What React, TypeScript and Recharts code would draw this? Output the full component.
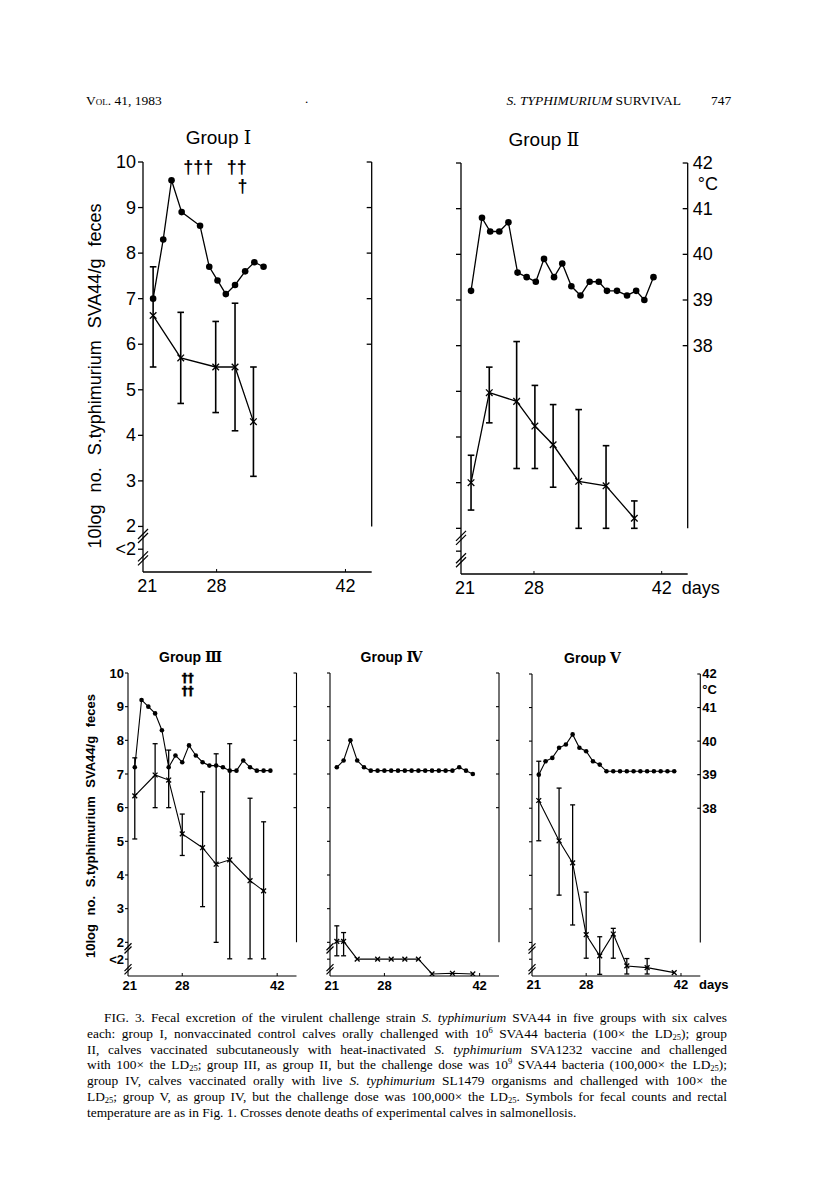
import React from "react";
import {
  ComposedChart,
  Line,
  XAxis,
  YAxis,
  ErrorBar,
  ReferenceLine,
  ReferenceDot,
} from "recharts";

const SANS = "'Liberation Sans', Arial, sans-serif";
const SERIF = "'Liberation Serif', 'Times New Roman', serif";

// x axis: days
const dayDomain: [number, number] = [20, 44.85];
const dayTicks = [21, 28, 42];
// left axis: 10log count / g feces (1.5 stands for "<2")
const countTicks = [1.5, 2, 3, 4, 5, 6, 7, 8, 9, 10];
// right axis: rectal temperature (deg C)
const tempTicks = [38, 39, 40, 41, 42];
// the "//" breaks on the left axis
const breakLevelsTop = [1.79, 1.3];
const breakLevelsBottom = [1.82, 1.2];

// Group I
const g1TempDays = [21.1, 22.2, 23.1, 24.2, 26.2, 27.2, 28.1, 29.0, 30.0, 31.1, 32.1, 33.1];
const g1Temp = [39.0, 40.3, 41.6, 40.9, 40.6, 39.7, 39.4, 39.1, 39.3, 39.6, 39.8, 39.7];
const g1CountDays = [21.1, 24.1, 27.9, 30.0, 32.0];
const g1Count = [6.63, 5.7, 5.5, 5.5, 4.3];
const g1Low = [5.5, 4.7, 4.5, 4.1, 3.1];
const g1High = [7.7, 6.7, 6.5, 6.9, 5.5];
const g1Deaths = [
  { day: 26.0, level: 9.89, mark: "†††" },
  { day: 30.2, level: 9.89, mark: "††" },
  { day: 30.8, level: 9.47, mark: "†" },
];

// Group II
const g2TempDays = [21.1, 22.3, 23.2, 24.2, 25.2, 26.2, 27.2, 28.2, 29.1, 30.2, 31.1, 32.1, 33.1, 34.1, 35.1, 36.0, 37.1, 38.2, 39.2, 40.1, 41.1];
const g2Temp = [39.2, 40.8, 40.5, 40.5, 40.7, 39.6, 39.5, 39.4, 39.9, 39.5, 39.8, 39.3, 39.1, 39.4, 39.4, 39.2, 39.2, 39.1, 39.2, 39.0, 39.5];
const g2CountDays = [21.1, 23.1, 26.1, 28.1, 30.1, 32.9, 35.9, 39.0];
const g2Count = [3.0, 4.97, 4.78, 4.24, 3.83, 3.03, 2.93, 2.22];
const g2Low = [2.4, 4.31, 3.31, 3.31, 2.9, 2.0, 2.0, 2.0];
const g2High = [3.6, 5.53, 6.09, 5.13, 4.71, 4.6, 3.81, 2.6];

// Groups III - V: daily temperatures
const dailyDays = [21, 22, 23, 24, 25, 26, 27, 28, 29, 30, 31, 32, 33, 34, 35, 36, 37, 38, 39, 40, 41];

// Group III
const g3Temp = [39.2, 41.2, 41.0, 40.8, 40.3, 39.2, 39.55, 39.35, 39.85, 39.55, 39.35, 39.25, 39.25, 39.2, 39.1, 39.1, 39.4, 39.2, 39.1, 39.1, 39.1];
const g3CountDays = [21, 24, 26, 28, 31, 33, 35, 38, 40];
const g3Count = [6.35, 6.97, 6.82, 5.22, 4.81, 4.32, 4.45, 3.83, 3.53];
const g3Low = [5.07, 6.0, 6.0, 4.58, 3.06, 2.0, 1.51, 1.51, 1.51];
const g3High = [7.48, 7.9, 7.71, 5.81, 6.47, 7.6, 7.9, 6.28, 5.58];
const g3Deaths = [
  { day: 28.8, level: 9.86, mark: "††" },
  { day: 28.8, level: 9.47, mark: "††" },
];

// Group IV
const g4Temp = [39.2, 39.4, 40.0, 39.4, 39.2, 39.1, 39.1, 39.1, 39.1, 39.1, 39.1, 39.1, 39.1, 39.1, 39.1, 39.1, 39.1, 39.1, 39.2, 39.1, 39.0];
const g4CountDays = [21, 22, 24, 27, 29, 31, 33, 35, 38, 41];
const g4Count = [2.03, 2.03, 1.5, 1.5, 1.5, 1.5, 1.5, 1.06, 1.08, 1.06];
const g4Low = [1.6, 1.6, null, null, null, null, null, null, null, null];
const g4High = [2.49, 2.29, null, null, null, null, null, null, null, null];

// Group V
const g5Temp = [39.0, 39.4, 39.5, 39.8, 39.9, 40.2, 39.8, 39.7, 39.4, 39.3, 39.1, 39.1, 39.1, 39.1, 39.1, 39.1, 39.1, 39.1, 39.1, 39.1, 39.1];
const g5CountDays = [21, 24, 26, 28, 30, 32, 34, 37, 41];
const g5Count = [6.23, 5.03, 4.37, 2.23, 1.6, 2.25, 1.3, 1.25, 1.1];
const g5Low = [5.03, 3.41, 2.52, 1.53, 1.05, 1.53, 1.06, 1.06, null];
const g5High = [7.4, 6.6, 6.1, 3.5, 2.17, 2.42, 1.52, 1.52, null];

type Death = { day: number; level: number; mark: string };

type PanelProps = {
  left: number;
  top: number;
  w: number;
  h: number;
  big: boolean;
  tempDays: number[];
  temps: number[];
  countDays: number[];
  counts: number[];
  lows: (number | null)[];
  highs: (number | null)[];
  countLabels: boolean;
  tempLabels: boolean;
  daysLabel: boolean;
  deaths?: Death[];
};

// space around the plot area: axis band + outer margin
const AXW = 40;
const AXH = 30;
const ML = 20;
const MR = 20;
const MT = 20;
const MB = 4;

function CountTick(props: any) {
  const { x, y, payload, big, labels } = props;
  const v = payload.value;
  const tl = big ? 5 : 3;
  return (
    <g>
      <line x1={x - tl} y1={y} x2={x} y2={y} stroke="#000" strokeWidth={big ? 1.3 : 1.1} />
      {labels && (
        <text
          x={x - (big ? 7 : 4)}
          y={y}
          textAnchor="end"
          dominantBaseline="central"
          fontSize={big ? 18 : 13}
          fontWeight={big ? 400 : 700}
          fontFamily={SANS}
          fill="#000"
        >
          {v === 1.5 ? "<2" : v}
        </text>
      )}
    </g>
  );
}

function TempTick(props: any) {
  const { x, y, payload, big, labels } = props;
  const v = payload.value;
  const tl = big ? 5 : 3;
  const fs = big ? 18 : 13;
  const fw = big ? 400 : 700;
  return (
    <g>
      <line x1={x - tl} y1={y} x2={x} y2={y} stroke="#000" strokeWidth={big ? 1.3 : 1.1} />
      {labels && (
        <text x={x + (big ? 5 : 2)} y={y} textAnchor="start" dominantBaseline="central" fontSize={fs} fontWeight={fw} fontFamily={SANS} fill="#000">
          {v}
        </text>
      )}
      {labels && v === 42 && (
        <text x={x + (big ? 10 : 2)} y={y + (big ? 21 : 16)} textAnchor="start" dominantBaseline="central" fontSize={fs} fontWeight={fw} fontFamily={SANS} fill="#000">
          °C
        </text>
      )}
    </g>
  );
}

function DayTick(props: any) {
  const { x, y, payload, big, days } = props;
  const v = payload.value;
  const fs = big ? 18 : 13;
  const fw = big ? 400 : 700;
  const ty = y + (big ? 14 : 9);
  return (
    <g>
      {v !== 21 && <line x1={x} y1={y} x2={x} y2={y - 3} stroke="#000" strokeWidth={1} />}
      <text x={x + (v === 21 ? -5 : 0)} y={ty} textAnchor="middle" dominantBaseline="central" fontSize={fs} fontWeight={fw} fontFamily={SANS} fill="#000">
        {v}
      </text>
      {days && v === 42 && (
        <text x={x + (big ? 20 : 18)} y={ty} textAnchor="start" dominantBaseline="central" fontSize={fs} fontWeight={fw} fontFamily={SANS} fill="#000">
          days
        </text>
      )}
    </g>
  );
}

function BreakMark(props: any) {
  const { cx, cy, big } = props;
  const a = big ? 5 : 3.5;
  const g = big ? 2 : 1.6;
  return (
    <g stroke="#000" strokeWidth={1.2}>
      <line x1={cx - a} y1={cy + a - g} x2={cx + a} y2={cy - a - g} />
      <line x1={cx - a} y1={cy + a + g} x2={cx + a} y2={cy - a + g} />
    </g>
  );
}

function CrossDot(props: any) {
  const { cx, cy, size } = props;
  if (cx == null || cy == null) return <g />;
  return (
    <g stroke="#000" strokeWidth={1.3}>
      <line x1={cx - size} y1={cy - size} x2={cx + size} y2={cy + size} />
      <line x1={cx - size} y1={cy + size} x2={cx + size} y2={cy - size} />
    </g>
  );
}

function Panel(p: PanelProps) {
  const tempData = p.tempDays.map((d, i) => ({ day: d, temp: p.temps[i] }));
  const countData = p.countDays.map((d, i) => {
    const lo = p.lows[i];
    const hi = p.highs[i];
    return {
      day: d,
      count: p.counts[i],
      err: lo == null || hi == null ? null : [p.counts[i] - lo, hi - p.counts[i]],
    };
  });
  const sw = p.big ? 1.3 : 1.1;
  const breaks = p.big ? breakLevelsTop : breakLevelsBottom;
  const padL = ML + AXW;
  const padT = MT;

  return (
    <div style={{ position: "absolute", left: p.left - padL, top: p.top - padT }}>
      <ComposedChart
        width={padL + p.w + AXW + MR}
        height={padT + p.h + AXH + MB}
        margin={{ top: MT, right: MR, bottom: MB, left: ML }}
      >
        <XAxis
          type="number"
          dataKey="day"
          domain={dayDomain}
          ticks={dayTicks}
          allowDataOverflow
          height={AXH}
          interval={0}
          tickLine={false}
          tickSize={0}
          tickMargin={0}
          axisLine={{ stroke: "#000", strokeWidth: sw }}
          tick={(t: any) => <DayTick {...t} big={p.big} days={p.daysLabel} />}
        />
        <YAxis
          yAxisId="count"
          orientation="left"
          width={AXW}
          domain={[1, 10]}
          ticks={countTicks}
          allowDataOverflow
          interval={0}
          tickLine={false}
          tickSize={0}
          tickMargin={0}
          axisLine={{ stroke: "#000", strokeWidth: sw }}
          tick={(t: any) => <CountTick {...t} big={p.big} labels={p.countLabels} />}
        />
        <YAxis
          yAxisId="temp"
          orientation="right"
          width={AXW}
          domain={[33, 42]}
          ticks={tempTicks}
          allowDataOverflow
          interval={0}
          tickLine={false}
          tickSize={0}
          tickMargin={0}
          axisLine={false}
          tick={(t: any) => <TempTick {...t} big={p.big} labels={p.tempLabels} />}
        />
        <ReferenceLine
          yAxisId="count"
          segment={[
            { x: dayDomain[1], y: 2 },
            { x: dayDomain[1], y: 10 },
          ]}
          stroke="#000"
          strokeWidth={sw}
          ifOverflow="visible"
        />
        {breaks.map((lv) => (
          <ReferenceDot
            key={"b" + lv}
            yAxisId="count"
            x={dayDomain[0]}
            y={lv}
            r={1}
            ifOverflow="visible"
            shape={(s: any) => <BreakMark {...s} big={p.big} />}
          />
        ))}
        <Line
          yAxisId="temp"
          data={tempData}
          dataKey="temp"
          type="linear"
          stroke="#000"
          strokeWidth={sw}
          dot={{ r: p.big ? 3.3 : 2.3, fill: "#000", stroke: "#000", strokeWidth: 0 }}
          activeDot={false}
          isAnimationActive={false}
        />
        <Line
          yAxisId="count"
          data={countData}
          dataKey="count"
          type="linear"
          stroke="#000"
          strokeWidth={sw}
          dot={(d: any) => <CrossDot key={"c" + d.index} cx={d.cx} cy={d.cy} size={p.big ? 3.3 : 2.4} />}
          activeDot={false}
          isAnimationActive={false}
        >
          <ErrorBar dataKey="err" direction="y" width={p.big ? 3.3 : 2.5} stroke="#000" strokeWidth={p.big ? 1.6 : 1.3} />
        </Line>
        {(p.deaths || []).map((m, i) => (
          <ReferenceDot
            key={"d" + i}
            yAxisId="count"
            x={m.day}
            y={m.level}
            r={1}
            ifOverflow="visible"
            shape={(s: any) => (
              <text
                x={s.cx}
                y={s.cy}
                textAnchor="middle"
                dominantBaseline="central"
                fontSize={p.big ? 18 : 12}
                fontWeight={700}
                fontFamily={p.big ? SANS : "'DejaVu Sans', sans-serif"}
                fill="#000"
                stroke="#000"
                strokeWidth={p.big ? 0 : 0.3}
              >
                {m.mark}
              </text>
            )}
          />
        ))}
      </ComposedChart>
    </div>
  );
}

function Title({ x, y, text, numeral, big }: { x: number; y: number; text: string; numeral: string; big: boolean }) {
  return (
    <div
      style={{
        position: "absolute",
        left: x,
        top: y,
        transform: "translate(-50%, -50%)",
        whiteSpace: "nowrap",
        fontFamily: SANS,
        fontSize: big ? 19 : 14,
        fontWeight: big ? 400 : 700,
        lineHeight: 1,
      }}
    >
      {text} <span style={{ fontFamily: "'DejaVu Serif', serif" }}>{numeral}</span>
    </div>
  );
}

function YLabel({ x, y, big }: { x: number; y: number; big: boolean }) {
  return (
    <div
      style={{
        position: "absolute",
        left: x,
        top: y,
        transform: "translate(-50%, -50%) rotate(-90deg)",
        whiteSpace: "nowrap",
        fontFamily: SANS,
        fontSize: big ? 18 : 13,
        fontWeight: big ? 400 : 700,
        wordSpacing: big ? 7 : 5,
        lineHeight: 1,
      }}
    >
      10log no. S.typhimurium SVA44/g feces
    </div>
  );
}

const capLine: React.CSSProperties = {
  textAlign: "justify",
  textAlignLast: "justify",
  whiteSpace: "nowrap",
  height: 15.8,
};
const sup: React.CSSProperties = { fontSize: 8.5, verticalAlign: 5, lineHeight: 0 };
const sub: React.CSSProperties = { fontSize: 8.5, verticalAlign: -2, lineHeight: 0 };

export default function App() {
  return (
    <div
      style={{
        position: "absolute",
        left: 0,
        top: 0,
        width: 816,
        height: 1190,
        background: "#fff",
        overflow: "hidden",
        color: "#000",
      }}
    >
      {/* running head */}
      <div style={{ position: "absolute", left: 86, top: 94, fontFamily: SERIF, fontSize: 13.5, lineHeight: "13px", fontVariant: "small-caps", whiteSpace: "nowrap" }}>
        Vol. 41, 1983
      </div>
      <div style={{ position: "absolute", left: 305, top: 92, fontFamily: SERIF, fontSize: 13, lineHeight: "13px" }}>.</div>
      <div style={{ position: "absolute", right: 816 - 681, top: 94, fontFamily: SERIF, fontSize: 13.5, lineHeight: "13px", whiteSpace: "nowrap" }}>
        <i>S. TYPHIMURIUM</i> SURVIVAL
      </div>
      <div style={{ position: "absolute", left: 711, top: 94, fontFamily: SERIF, fontSize: 13.5, lineHeight: "13px" }}>747</div>

      {/* top row */}
      <Title x={218.5} y={137} text="Group" numeral="I" big />
      <Title x={544} y={139} text="Group" numeral="Ⅱ" big />
      <YLabel x={95} y={376} big />
      <Panel
        left={143.3}
        top={162}
        w={228.7}
        h={410}
        big
        tempDays={g1TempDays}
        temps={g1Temp}
        countDays={g1CountDays}
        counts={g1Count}
        lows={g1Low}
        highs={g1High}
        countLabels
        tempLabels={false}
        daysLabel={false}
        deaths={g1Deaths}
      />
      <Panel
        left={461}
        top={163}
        w={226.7}
        h={411}
        big
        tempDays={g2TempDays}
        temps={g2Temp}
        countDays={g2CountDays}
        counts={g2Count}
        lows={g2Low}
        highs={g2High}
        countLabels={false}
        tempLabels
        daysLabel
      />

      {/* bottom row */}
      <Title x={190.5} y={657} text="Group" numeral="Ⅲ" big={false} />
      <Title x={391.5} y={657} text="Group" numeral="Ⅳ" big={false} />
      <Title x={592.5} y={658} text="Group" numeral="Ⅴ" big={false} />
      <YLabel x={90} y={826} big={false} />
      <Panel
        left={127.5}
        top={673}
        w={168.5}
        h={303}
        big={false}
        tempDays={dailyDays}
        temps={g3Temp}
        countDays={g3CountDays}
        counts={g3Count}
        lows={g3Low}
        highs={g3High}
        countLabels
        tempLabels={false}
        daysLabel={false}
        deaths={g3Deaths}
      />
      <Panel
        left={330}
        top={673}
        w={169}
        h={303}
        big={false}
        tempDays={dailyDays}
        temps={g4Temp}
        countDays={g4CountDays}
        counts={g4Count}
        lows={g4Low}
        highs={g4High}
        countLabels={false}
        tempLabels={false}
        daysLabel={false}
      />
      <Panel
        left={531.7}
        top={674}
        w={168.3}
        h={302}
        big={false}
        tempDays={dailyDays}
        temps={g5Temp}
        countDays={g5CountDays}
        counts={g5Count}
        lows={g5Low}
        highs={g5High}
        countLabels={false}
        tempLabels
        daysLabel
      />

      {/* caption */}
      <div style={{ position: "absolute", left: 87, top: 1010, width: 640, fontFamily: SERIF, fontSize: 13.4, lineHeight: "15.8px" }}>
        <div style={{ ...capLine, paddingLeft: 17 }}>
          FIG. 3. Fecal excretion of the virulent challenge strain <i>S. typhimurium</i> SVA44 in five groups with six calves
        </div>
        <div style={capLine}>
          each: group I, nonvaccinated control calves orally challenged with 10<span style={sup}>6</span> SVA44 bacteria (100× the LD<span style={sub}>25</span>); group
        </div>
        <div style={capLine}>
          II, calves vaccinated subcutaneously with heat-inactivated <i>S. typhimurium</i> SVA1232 vaccine and challenged
        </div>
        <div style={capLine}>
          with 100× the LD<span style={sub}>25</span>; group III, as group II, but the challenge dose was 10<span style={sup}>9</span> SVA44 bacteria (100,000× the LD<span style={sub}>25</span>);
        </div>
        <div style={capLine}>
          group IV, calves vaccinated orally with live <i>S. typhimurium</i> SL1479 organisms and challenged with 100× the
        </div>
        <div style={capLine}>
          LD<span style={sub}>25</span>; group V, as group IV, but the challenge dose was 100,000× the LD<span style={sub}>25</span>. Symbols for fecal counts and rectal
        </div>
        <div style={{ whiteSpace: "nowrap", height: 15.8 }}>
          temperature are as in Fig. 1. Crosses denote deaths of experimental calves in salmonellosis.
        </div>
      </div>
    </div>
  );
}
